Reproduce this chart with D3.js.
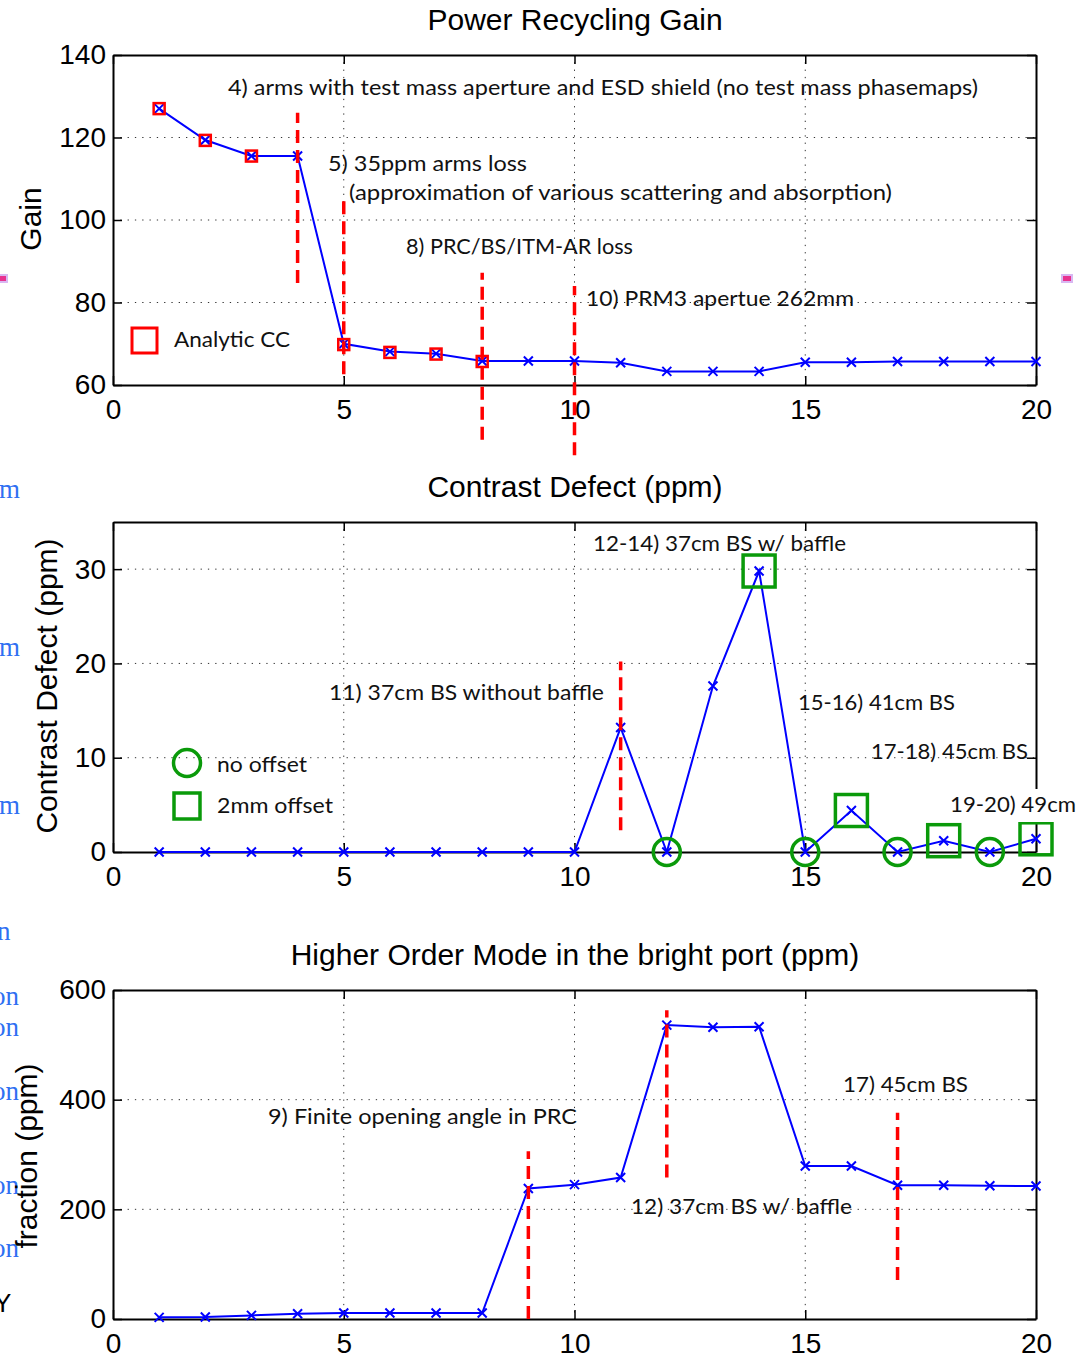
<!DOCTYPE html>
<html>
<head>
<meta charset="utf-8">
<script src="https://cdn.jsdelivr.net/npm/d3@7"></script>
<style>
  body { margin: 0; background: #fff; }
  svg { display: block; background: #fff; }
  .axis text { font-family: "Liberation Sans", Arial, sans-serif; font-size: 28px; fill: #000; }
  .title { font-family: "Liberation Sans", Arial, sans-serif; font-size: 30px; fill: #000; }
  .note { font-family: Lato, "Open Sans", sans-serif; font-size: 22px; fill: #111; }
  .scrap { font-family: "Liberation Serif", "DejaVu Serif", serif; font-size: 27px; fill: #2f6ff2; }
</style>
</head>
<body>
<svg id="chart" width="1090" height="1356"></svg>
<script>
// simulation steps (x axis)
var steps = [1, 2, 3, 4, 5, 6, 7, 8, 9, 10, 11, 12, 13, 14, 15, 16, 17, 18, 19, 20]
var xTicks = [0, 5, 10, 15, 20]

// power recycling gain
var gain = [127.0, 119.4, 115.5, 115.5, 70.0, 68.1, 67.6, 65.8, 65.8, 65.8, 65.4, 63.3, 63.3, 63.3, 65.5, 65.5, 65.7, 65.7, 65.7, 65.7]
var ccSteps = [1, 2, 3, 5, 6, 7, 8]
var gainCC = [127.0, 119.3, 115.5, 69.8, 67.9, 67.5, 65.7]
var gainTicks = [60, 80, 100, 120, 140]

// contrast defect (ppm)
var contrast = [0, 0, 0, 0, 0, 0, 0, 0, 0, 0, 13.2, 0, 17.6, 29.8, 0, 4.4, 0, 1.2, 0, 1.4]
var noOffsetSteps = [12, 15, 17, 19]
var offsetSteps = [14, 16, 18, 20]
var contrastTicks = [0, 10, 20, 30]

// higher order mode in the bright port (ppm)
var hom = [3, 3.6, 6.6, 9.7, 10.9, 10.9, 10.9, 10.9, 238, 245, 258, 536, 532, 533, 279, 279, 244, 244, 243, 242.5]
var homTicks = [0, 200, 400, 600]

// red dashed change markers: step, from, to (data units)
var gainMarks = [[4, 84.7, 126], [5, 62.6, 105.2], [8, 46.7, 87.2], [10, 43, 84]]
var contrastMarks = [[11, 2.3, 20.2]]
var homMarks = [[9, 0, 306], [12, 258, 563], [17, 71, 376]]

var svg = d3.select("#chart")
var x = d3.scaleLinear().domain([0, 20]).range([113, 1036])
var blue = "#0000ff", red = "#ff0000", green = "#0a9a0a"
var cross = "M-4.5,-4.5L4.5,4.5M-4.5,4.5L4.5,-4.5"

var panels = [
    { title: "Power Recycling Gain", ylabel: "Gain", labX: 41, labY: 219, top: 55, bottom: 385, domain: [60, 140], ticks: gainTicks, values: gain, marks: gainMarks },
    { title: "Contrast Defect (ppm)", ylabel: "Contrast Defect (ppm)", labX: 57, labY: 686, top: 522, bottom: 852, domain: [0, 35], ticks: contrastTicks, values: contrast, marks: contrastMarks },
    { title: "Higher Order Mode in the bright port (ppm)", ylabel: "fraction (ppm)", labX: 37, labY: 1156, top: 990, bottom: 1319, domain: [0, 600], ticks: homTicks, values: hom, marks: homMarks }
]

// stray bits of the page behind the figure
var scraps = [["m", 490], ["m", 648], ["m", 806], ["n", 932], ["on", 997], ["on", 1028], ["on", 1092], ["on", 1186], ["on", 1249]]
svg.selectAll(".scrap").data(scraps).enter().append("text")
    .attr("class", "scrap")
    .attr("x", d => d[0] == "on" ? -8 : (d[0] == "n" ? -3 : -1))
    .attr("y", d => d[1] + 8)
    .text(d => d[0])
svg.append("text").attr("x", -6).attr("y", 1312).attr("font-family", "Liberation Sans").attr("font-size", 26).text("Y")
svg.selectAll(".pink").data([[-3, 275], [1062, 275]]).enter().append("rect")
    .attr("x", d => d[0]).attr("y", d => d[1]).attr("width", 10).attr("height", 7)
    .attr("fill", "#e8328f").attr("stroke", "#d8b8f2").attr("stroke-width", 2)

panels.forEach(function (p) {
    var y = d3.scaleLinear().domain(p.domain).range([p.bottom, p.top])
    var g = svg.append("g")

    // dotted grid
    g.selectAll(".gx").data(xTicks.slice(1, -1)).enter().append("line")
        .attr("x1", d => x(d)).attr("x2", d => x(d))
        .attr("y1", p.top).attr("y2", p.bottom)
        .attr("stroke", "#333").attr("stroke-dasharray", "1.3,6")
    g.selectAll(".gy").data(p.ticks.filter(t => y(t) < p.bottom - 1 && y(t) > p.top + 1)).enter().append("line")
        .attr("x1", x(0)).attr("x2", x(20))
        .attr("y1", d => y(d)).attr("y2", d => y(d))
        .attr("stroke", "#333").attr("stroke-dasharray", "1.3,6")

    // axes, ticks inside like matlab
    g.append("g").attr("class", "axis")
        .attr("transform", `translate(0,${p.bottom})`)
        .call(d3.axisBottom(x).tickValues(xTicks).tickSizeInner(-9).tickSizeOuter(0).tickPadding(14))
    g.append("g").attr("class", "axis")
        .attr("transform", `translate(0,${p.top})`)
        .call(d3.axisTop(x).tickValues(xTicks).tickSizeInner(-9).tickSizeOuter(0).tickFormat(""))
    g.append("g").attr("class", "axis")
        .attr("transform", `translate(${x(0)},0)`)
        .call(d3.axisLeft(y).tickValues(p.ticks).tickSizeInner(-9).tickSizeOuter(0).tickPadding(7))
    g.append("g").attr("class", "axis")
        .attr("transform", `translate(${x(20)},0)`)
        .call(d3.axisRight(y).tickValues(p.ticks).tickSizeInner(-9).tickSizeOuter(0).tickFormat(""))
    g.selectAll(".axis path, .axis line").attr("stroke", "#000").attr("stroke-width", 2)
    g.selectAll(".axis .tick line").attr("stroke-width", 1.5)

    g.append("text").attr("class", "title")
        .attr("x", 575).attr("y", p.top - 25)
        .attr("text-anchor", "middle").text(p.title)
    g.append("text").attr("class", "title")
        .attr("transform", `translate(${p.labX},${p.labY}) rotate(-90)`)
        .attr("text-anchor", "middle").text(p.ylabel)

    p.y = y
    p.g = g
})

// blue traces with x markers
panels.forEach(function (p) {
    var pts = steps.map((s, i) => ({ s: s, v: p.values[i] }))
    p.g.append("path").datum(pts)
        .attr("fill", "none").attr("stroke", blue).attr("stroke-width", 2)
        .attr("d", d3.line().x(d => x(d.s)).y(d => p.y(d.v)))
    p.g.selectAll(".mk").data(pts).enter().append("path")
        .attr("transform", d => `translate(${x(d.s)},${p.y(d.v)})`)
        .attr("d", cross).attr("stroke", blue).attr("stroke-width", 2).attr("fill", "none")
})

// analytic CC squares
var p1 = panels[0]
p1.g.selectAll(".cc").data(ccSteps).enter().append("rect")
    .attr("x", (d, i) => x(d) - 5.5).attr("y", (d, i) => p1.y(gainCC[i]) - 5.5)
    .attr("width", 11).attr("height", 11)
    .attr("fill", "none").attr("stroke", red).attr("stroke-width", 2.5)

// contrast defect offset markers
var p2 = panels[1]
p2.g.selectAll(".no").data(noOffsetSteps).enter().append("circle")
    .attr("cx", d => x(d)).attr("cy", d => p2.y(contrast[d - 1]))
    .attr("r", 13.5).attr("fill", "none").attr("stroke", green).attr("stroke-width", 3.5)

// red dashed markers
panels.forEach(function (p) {
    p.g.selectAll(".dash").data(p.marks).enter().append("line")
        .attr("x1", d => x(d[0])).attr("x2", d => x(d[0]))
        .attr("y1", d => p.y(d[1])).attr("y2", d => p.y(d[2]))
        .attr("stroke", red).attr("stroke-width", 3.5).attr("stroke-dasharray", "13,7")
})

// annotations: text, left x, baseline y, width
var notes = [
    ["4) arms with test mass aperture and ESD shield (no test mass phasemaps)", 228, 95, 750],
    ["5) 35ppm arms loss", 328, 171, 199],
    ["(approximation of various scattering and absorption)", 349, 200, 543],
    ["8) PRC/BS/ITM-AR loss", 406, 254, 227],
    ["10) PRM3 apertue 262mm", 586, 306, 268],
    ["Analytic CC", 174, 347, 116],
    ["12-14) 37cm BS w/ baffle", 593, 551, 253],
    ["11) 37cm BS without baffle", 329, 700, 275],
    ["15-16) 41cm BS", 798, 710, 157],
    ["17-18) 45cm BS", 871, 759, 157],
    ["no offset", 217, 772, 90],
    ["2mm offset", 217, 813, 116],
    ["17) 45cm BS", 843, 1092, 125],
    ["9) Finite opening angle in PRC", 268, 1124, 309],
    ["12) 37cm BS w/ baffle", 631, 1214, 221]
]
svg.selectAll(".note").data(notes).enter().append("text")
    .attr("class", "note")
    .attr("x", d => d[1]).attr("y", d => d[2])
    .attr("textLength", d => d[3]).attr("lengthAdjust", "spacingAndGlyphs")
    .text(d => d[0])

// this one sits on a white box that hides the right border
svg.append("rect").attr("x", 946).attr("y", 789).attr("width", 134).attr("height", 33).attr("fill", "#fff")
svg.append("text").attr("class", "note")
    .attr("x", 950).attr("y", 812).attr("textLength", 126).attr("lengthAdjust", "spacingAndGlyphs")
    .text("19-20) 49cm")

p2.g.selectAll(".off").data(offsetSteps).enter().append("rect")
    .attr("x", d => x(d) - 16).attr("y", d => p2.y(contrast[d - 1]) - 16)
    .attr("width", 32).attr("height", 32)
    .attr("fill", "none").attr("stroke", green).attr("stroke-width", 3.5)

// legends
svg.append("rect").attr("x", 132).attr("y", 328).attr("width", 25).attr("height", 25)
    .attr("fill", "none").attr("stroke", red).attr("stroke-width", 3)
svg.append("circle").attr("cx", 187).attr("cy", 763).attr("r", 13.5)
    .attr("fill", "none").attr("stroke", green).attr("stroke-width", 3.5)
svg.append("rect").attr("x", 174).attr("y", 793).attr("width", 26).attr("height", 26)
    .attr("fill", "none").attr("stroke", green).attr("stroke-width", 3.5)
</script>
</body>
</html>
